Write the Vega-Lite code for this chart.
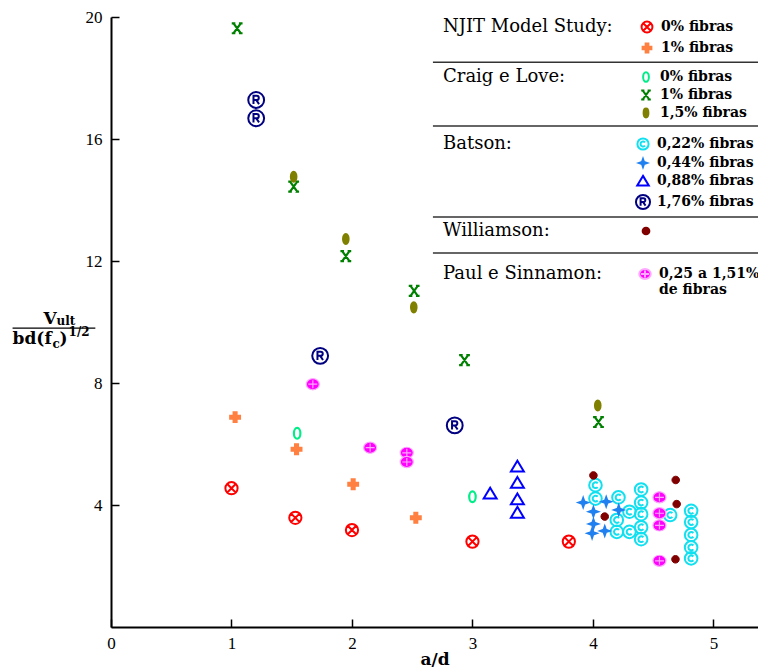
{
  "$schema": "https://vega.github.io/schema/vega-lite/v6.json",
  "width": 647,
  "height": 610,
  "autosize": {"type": "none"},
  "padding": {"left": 111, "top": 17, "right": 0, "bottom": 42},
  "background": "white",
  "config": {
    "view": {"stroke": null},
    "axis": {
      "grid": false,
      "domainColor": "black",
      "domainWidth": 2,
      "tickColor": "black",
      "tickWidth": 1.5,
      "tickSize": -8,
      "labelFont": "Liberation Serif",
      "labelFontSize": 17,
      "labelColor": "black",
      "labelFlush": false,
      "titleFont": "DejaVu Serif",
      "titleFontWeight": "bold",
      "titleFontSize": 17,
      "titleColor": "black"
    },
    "axisX": {"labelPadding": 16, "titlePadding": 0, "labelAngle": 0},
    "axisY": {"labelPadding": 17},
    "legend": {
      "orient": "none",
      "titleOrient": "left",
      "titleAnchor": "start",
      "titleBaseline": "top",
      "titleFont": "DejaVu Serif",
      "titleFontSize": 18,
      "titleFontWeight": "normal",
      "titleColor": "black",
      "titleLimit": 400,
      "labelFont": "DejaVu Serif",
      "labelFontSize": 14,
      "labelFontWeight": "bold",
      "labelColor": "black",
      "labelLimit": 300,
      "labelOffset": 5,
      "symbolSize": 256,
      "symbolStrokeWidth": 2,
      "symbolFillColor": "transparent",
      "symbolStrokeColor": "black",
      "rowPadding": 3,
      "padding": 0
    }
  },
  "data": {
    "values": [
      {"grupo": "NJIT", "serie": "0% fibras", "ad": 1.00, "v": 4.55},
      {"grupo": "NJIT", "serie": "0% fibras", "ad": 1.53, "v": 3.58},
      {"grupo": "NJIT", "serie": "0% fibras", "ad": 2.00, "v": 3.18},
      {"grupo": "NJIT", "serie": "0% fibras", "ad": 3.00, "v": 2.80},
      {"grupo": "NJIT", "serie": "0% fibras", "ad": 3.80, "v": 2.80},
      {"grupo": "NJIT", "serie": "1% fibras", "ad": 1.03, "v": 6.88},
      {"grupo": "NJIT", "serie": "1% fibras", "ad": 1.54, "v": 5.83},
      {"grupo": "NJIT", "serie": "1% fibras", "ad": 2.01, "v": 4.68},
      {"grupo": "NJIT", "serie": "1% fibras", "ad": 2.53, "v": 3.58},

      {"grupo": "Craig", "serie": "0% fibras", "ad": 1.545, "v": 6.35},
      {"grupo": "Craig", "serie": "0% fibras", "ad": 3.00, "v": 4.27},
      {"grupo": "Craig", "serie": "1% fibras", "ad": 1.047, "v": 19.63},
      {"grupo": "Craig", "serie": "1% fibras", "ad": 1.516, "v": 14.44},
      {"grupo": "Craig", "serie": "1% fibras", "ad": 1.949, "v": 12.16},
      {"grupo": "Craig", "serie": "1% fibras", "ad": 2.516, "v": 11.02},
      {"grupo": "Craig", "serie": "1% fibras", "ad": 2.934, "v": 8.75},
      {"grupo": "Craig", "serie": "1% fibras", "ad": 4.046, "v": 6.72},
      {"grupo": "Craig", "serie": "1,5% fibras", "ad": 1.516, "v": 14.76},
      {"grupo": "Craig", "serie": "1,5% fibras", "ad": 1.949, "v": 12.72},
      {"grupo": "Craig", "serie": "1,5% fibras", "ad": 2.513, "v": 10.48},
      {"grupo": "Craig", "serie": "1,5% fibras", "ad": 4.04, "v": 7.26},

      {"grupo": "Batson", "serie": "0,22% fibras", "ad": 4.021, "v": 4.65},
      {"grupo": "Batson", "serie": "0,22% fibras", "ad": 4.021, "v": 4.21},
      {"grupo": "Batson", "serie": "0,22% fibras", "ad": 4.212, "v": 4.25},
      {"grupo": "Batson", "serie": "0,22% fibras", "ad": 4.400, "v": 4.51},
      {"grupo": "Batson", "serie": "0,22% fibras", "ad": 4.303, "v": 3.78},
      {"grupo": "Batson", "serie": "0,22% fibras", "ad": 4.198, "v": 3.51},
      {"grupo": "Batson", "serie": "0,22% fibras", "ad": 4.400, "v": 4.08},
      {"grupo": "Batson", "serie": "0,22% fibras", "ad": 4.400, "v": 3.70},
      {"grupo": "Batson", "serie": "0,22% fibras", "ad": 4.198, "v": 3.12},
      {"grupo": "Batson", "serie": "0,22% fibras", "ad": 4.303, "v": 3.12},
      {"grupo": "Batson", "serie": "0,22% fibras", "ad": 4.400, "v": 3.27},
      {"grupo": "Batson", "serie": "0,22% fibras", "ad": 4.400, "v": 2.88},
      {"grupo": "Batson", "serie": "0,22% fibras", "ad": 4.641, "v": 3.67},
      {"grupo": "Batson", "serie": "0,22% fibras", "ad": 4.815, "v": 3.81},
      {"grupo": "Batson", "serie": "0,22% fibras", "ad": 4.815, "v": 3.44},
      {"grupo": "Batson", "serie": "0,22% fibras", "ad": 4.815, "v": 3.02},
      {"grupo": "Batson", "serie": "0,22% fibras", "ad": 4.815, "v": 2.61},
      {"grupo": "Batson", "serie": "0,22% fibras", "ad": 4.815, "v": 2.25},
      {"grupo": "Batson", "serie": "0,44% fibras", "ad": 3.919, "v": 4.08},
      {"grupo": "Batson", "serie": "0,44% fibras", "ad": 4.110, "v": 4.11},
      {"grupo": "Batson", "serie": "0,44% fibras", "ad": 4.004, "v": 3.78},
      {"grupo": "Batson", "serie": "0,44% fibras", "ad": 4.214, "v": 3.84},
      {"grupo": "Batson", "serie": "0,44% fibras", "ad": 4.004, "v": 3.38},
      {"grupo": "Batson", "serie": "0,44% fibras", "ad": 3.993, "v": 3.07},
      {"grupo": "Batson", "serie": "0,44% fibras", "ad": 4.098, "v": 3.15},
      {"grupo": "Batson", "serie": "0,88% fibras", "ad": 3.147, "v": 4.38},
      {"grupo": "Batson", "serie": "0,88% fibras", "ad": 3.373, "v": 5.26},
      {"grupo": "Batson", "serie": "0,88% fibras", "ad": 3.373, "v": 4.73},
      {"grupo": "Batson", "serie": "0,88% fibras", "ad": 3.373, "v": 4.19},
      {"grupo": "Batson", "serie": "0,88% fibras", "ad": 3.373, "v": 3.75},
      {"grupo": "Batson", "serie": "1,76% fibras", "ad": 1.205, "v": 17.28},
      {"grupo": "Batson", "serie": "1,76% fibras", "ad": 1.205, "v": 16.68},
      {"grupo": "Batson", "serie": "1,76% fibras", "ad": 1.736, "v": 8.89},
      {"grupo": "Batson", "serie": "1,76% fibras", "ad": 2.853, "v": 6.61},

      {"grupo": "Williamson", "serie": "Williamson", "ad": 4.004, "v": 4.97},
      {"grupo": "Williamson", "serie": "Williamson", "ad": 4.098, "v": 3.62},
      {"grupo": "Williamson", "serie": "Williamson", "ad": 4.687, "v": 4.82},
      {"grupo": "Williamson", "serie": "Williamson", "ad": 4.695, "v": 4.03},
      {"grupo": "Williamson", "serie": "Williamson", "ad": 4.685, "v": 2.22},

      {"grupo": "Paul", "serie": "0,25 a 1,51% de fibras", "ad": 1.675, "v": 7.96},
      {"grupo": "Paul", "serie": "0,25 a 1,51% de fibras", "ad": 2.151, "v": 5.88},
      {"grupo": "Paul", "serie": "0,25 a 1,51% de fibras", "ad": 2.455, "v": 5.71},
      {"grupo": "Paul", "serie": "0,25 a 1,51% de fibras", "ad": 2.455, "v": 5.41},
      {"grupo": "Paul", "serie": "0,25 a 1,51% de fibras", "ad": 4.552, "v": 4.25},
      {"grupo": "Paul", "serie": "0,25 a 1,51% de fibras", "ad": 4.552, "v": 3.73},
      {"grupo": "Paul", "serie": "0,25 a 1,51% de fibras", "ad": 4.552, "v": 3.33},
      {"grupo": "Paul", "serie": "0,25 a 1,51% de fibras", "ad": 4.552, "v": 2.17}
    ]
  },
  "layer": [
    {
      "transform": [{"filter": "datum.grupo === 'NJIT'"}],
      "mark": {"type": "point", "size": 324, "strokeWidth": 2, "opacity": 1, "filled": true},
      "encoding": {
        "x": {"field": "ad", "type": "quantitative", "title": "a/d", "scale": {"domain": [0, 5.37], "nice": false, "zero": false}, "axis": {"values": [0, 1, 2, 3, 4, 5], "format": "d"}},
        "y": {"field": "v", "type": "quantitative", "title": null, "scale": {"domain": [0, 20], "nice": false, "zero": false}, "axis": {"values": [4, 8, 12, 16, 20], "format": "d"}},
        "shape": {"field": "serie", "type": "nominal",
          "scale": {"domain": ["0% fibras", "1% fibras"], "range": [
            "M0.68,0A0.68,0.68 0 1,1 -0.68,0A0.68,0.68 0 1,1 0.68,0ZM-0.44,-0.44L0.44,0.44M0.44,-0.44L-0.44,0.44",
            "M-0.17,-0.55L0.17,-0.55L0.17,-0.17L0.55,-0.17L0.55,0.17L0.17,0.17L0.17,0.55L-0.17,0.55L-0.17,0.17L-0.55,0.17L-0.55,-0.17L-0.17,-0.17Z"]},
          "legend": {"title": "NJIT Model Study:", "legendX": 332, "legendY": 1, "titlePadding": 25, "rowPadding": 2}},
        "fill": {"field": "serie", "type": "nominal",
          "scale": {"domain": ["0% fibras", "1% fibras"], "range": ["transparent", "#FF8040"]},
          "legend": {"title": "NJIT Model Study:", "legendX": 332, "legendY": 1, "titlePadding": 25, "rowPadding": 2}},
        "stroke": {"field": "serie", "type": "nominal",
          "scale": {"domain": ["0% fibras", "1% fibras"], "range": ["#FF0000", "#FF8040"]},
          "legend": {"title": "NJIT Model Study:", "legendX": 332, "legendY": 1, "titlePadding": 25, "rowPadding": 2}}
      }
    },
    {
      "transform": [{"filter": "datum.grupo === 'Craig'"}],
      "mark": {"type": "point", "size": 324, "strokeWidth": 2.2, "opacity": 1, "filled": true},
      "encoding": {
        "x": {"field": "ad", "type": "quantitative", "title": "a/d"},
        "y": {"field": "v", "type": "quantitative", "title": null},
        "shape": {"field": "serie", "type": "nominal",
          "scale": {"domain": ["0% fibras", "1% fibras", "1,5% fibras"], "range": [
            "M0,-0.6A0.36,0.6 0 1,1 0,0.6A0.36,0.6 0 1,1 0,-0.6Z",
            "M-0.4,-0.55L0.4,0.55M0.4,-0.55L-0.4,0.55M-0.6,-0.55L-0.2,-0.55M0.2,-0.55L0.6,-0.55M-0.6,0.55L-0.2,0.55M0.2,0.55L0.6,0.55",
            "M0,-0.55A0.3,0.55 0 1,1 0,0.55A0.3,0.55 0 1,1 0,-0.55Z"]},
          "legend": {"title": "Craig e Love:", "legendX": 332, "legendY": 51, "titlePadding": 71, "rowPadding": -2}},
        "fill": {"field": "serie", "type": "nominal",
          "scale": {"domain": ["0% fibras", "1% fibras", "1,5% fibras"], "range": ["transparent", "transparent", "#808000"]},
          "legend": {"title": "Craig e Love:", "legendX": 332, "legendY": 51, "titlePadding": 71, "rowPadding": -2}},
        "stroke": {"field": "serie", "type": "nominal",
          "scale": {"domain": ["0% fibras", "1% fibras", "1,5% fibras"], "range": ["#00EE88", "#008000", "#808000"]},
          "legend": {"title": "Craig e Love:", "legendX": 332, "legendY": 51, "titlePadding": 71, "rowPadding": -2}}
      }
    },
    {
      "transform": [{"filter": "datum.grupo === 'Batson'"}],
      "mark": {"type": "point", "size": 324, "strokeWidth": 2, "opacity": 1, "filled": true},
      "encoding": {
        "x": {"field": "ad", "type": "quantitative", "title": "a/d"},
        "y": {"field": "v", "type": "quantitative", "title": null},
        "shape": {"field": "serie", "type": "nominal",
          "scale": {"domain": ["0,22% fibras", "0,44% fibras", "0,88% fibras", "1,76% fibras"], "range": [
            "M0.7,0A0.7,0.7 0 1,1 -0.7,0A0.7,0.7 0 1,1 0.7,0ZM0.25,-0.21A0.32,0.32 0 1,0 0.25,0.21",
            "M0,-0.5L0.13,-0.13L0.5,0L0.13,0.13L0,0.5L-0.13,0.13L-0.5,0L-0.13,-0.13Z",
            "M0,-0.64L0.72,0.56L-0.72,0.56Z",
            "M0.88,0A0.88,0.88 0 1,1 -0.88,0A0.88,0.88 0 1,1 0.88,0ZM-0.3,0.46L-0.3,-0.46L0.06,-0.46A0.23,0.23 0 0,1 0.06,0L-0.3,0M0,0L0.32,0.46"]},
          "legend": {"title": "Batson:", "legendX": 332, "legendY": 118, "titlePadding": 122, "rowPadding": 0}},
        "fill": {"field": "serie", "type": "nominal",
          "scale": {"domain": ["0,22% fibras", "0,44% fibras", "0,88% fibras", "1,76% fibras"], "range": ["transparent", "#2080F0", "transparent", "transparent"]},
          "legend": {"title": "Batson:", "legendX": 332, "legendY": 118, "titlePadding": 122, "rowPadding": 0}},
        "stroke": {"field": "serie", "type": "nominal",
          "scale": {"domain": ["0,22% fibras", "0,44% fibras", "0,88% fibras", "1,76% fibras"], "range": ["#10E0F0", "#2080F0", "#0000FF", "#000080"]},
          "legend": {"title": "Batson:", "legendX": 332, "legendY": 118, "titlePadding": 122, "rowPadding": 0}}
      }
    },
    {
      "transform": [{"filter": "datum.grupo === 'Williamson'"}],
      "mark": {"type": "point", "size": 324, "strokeWidth": 1, "opacity": 1, "filled": true},
      "encoding": {
        "x": {"field": "ad", "type": "quantitative", "title": "a/d"},
        "y": {"field": "v", "type": "quantitative", "title": null},
        "shape": {"field": "serie", "type": "nominal",
          "scale": {"domain": ["Williamson"], "range": ["M0.42,0A0.42,0.42 0 1,1 -0.42,0A0.42,0.42 0 1,1 0.42,0Z"]},
          "legend": {"title": "Williamson:", "legendX": 332, "legendY": 205, "titlePadding": 87, "labelExpr": "''"}},
        "fill": {"field": "serie", "type": "nominal",
          "scale": {"domain": ["Williamson"], "range": ["#800000"]},
          "legend": {"title": "Williamson:", "legendX": 332, "legendY": 205, "titlePadding": 87, "labelExpr": "''"}},
        "stroke": {"field": "serie", "type": "nominal",
          "scale": {"domain": ["Williamson"], "range": ["#800000"]},
          "legend": {"title": "Williamson:", "legendX": 332, "legendY": 205, "titlePadding": 87, "labelExpr": "''"}}
      }
    },
    {
      "transform": [{"filter": "datum.grupo === 'Paul'"}],
      "mark": {"type": "point", "size": 324, "strokeWidth": 1.2, "opacity": 1, "filled": true},
      "encoding": {
        "x": {"field": "ad", "type": "quantitative", "title": "a/d"},
        "y": {"field": "v", "type": "quantitative", "title": null},
        "shape": {"field": "serie", "type": "nominal",
          "scale": {"domain": ["0,25 a 1,51% de fibras"], "range": ["M0.72,0A0.72,0.62 0 1,1 -0.72,0A0.72,0.62 0 1,1 0.72,0ZM-0.5,0L0.5,0M0,-0.45L0,0.45"]},
          "legend": {"title": "Paul e Sinnamon:", "legendX": 332, "legendY": 248, "titlePadding": 33, "labelExpr": "['0,25 a 1,51%', 'de fibras']"}},
        "fill": {"field": "serie", "type": "nominal",
          "scale": {"domain": ["0,25 a 1,51% de fibras"], "range": ["#FF00FF"]},
          "legend": {"title": "Paul e Sinnamon:", "legendX": 332, "legendY": 248, "titlePadding": 33, "labelExpr": "['0,25 a 1,51%', 'de fibras']"}},
        "stroke": {"field": "serie", "type": "nominal",
          "scale": {"domain": ["0,25 a 1,51% de fibras"], "range": ["#FFA8FF"]},
          "legend": {"title": "Paul e Sinnamon:", "legendX": 332, "legendY": 248, "titlePadding": 33, "labelExpr": "['0,25 a 1,51%', 'de fibras']"}}
      }
    },
    {
      "data": {"values": [{}]},
      "mark": {"type": "rule", "color": "#333333", "strokeWidth": 1.5},
      "encoding": {"x": {"datum": 2.672, "type": "quantitative"}, "x2": {"datum": 5.37}, "y": {"datum": 18.52, "type": "quantitative"}}
    },
    {
      "data": {"values": [{}]},
      "mark": {"type": "rule", "color": "#333333", "strokeWidth": 1.5},
      "encoding": {"x": {"datum": 2.672, "type": "quantitative"}, "x2": {"datum": 5.37}, "y": {"datum": 16.43, "type": "quantitative"}}
    },
    {
      "data": {"values": [{}]},
      "mark": {"type": "rule", "color": "#333333", "strokeWidth": 1.5},
      "encoding": {"x": {"datum": 2.672, "type": "quantitative"}, "x2": {"datum": 5.37}, "y": {"datum": 13.44, "type": "quantitative"}}
    },
    {
      "data": {"values": [{}]},
      "mark": {"type": "rule", "color": "#333333", "strokeWidth": 1.5},
      "encoding": {"x": {"datum": 2.672, "type": "quantitative"}, "x2": {"datum": 5.37}, "y": {"datum": 12.26, "type": "quantitative"}}
    },
    {
      "data": {"values": [{}]},
      "mark": {"type": "rule", "color": "black", "strokeWidth": 1.3},
      "encoding": {"x": {"datum": -0.817, "type": "quantitative"}, "x2": {"datum": -0.13}, "y": {"datum": 9.8, "type": "quantitative"}}
    },
    {
      "data": {"values": [{}]},
      "mark": {"type": "text", "text": "V", "font": "DejaVu Serif", "fontWeight": "bold", "fontSize": 17, "align": "left", "baseline": "alphabetic", "dx": 31, "dy": -4, "color": "black"},
      "encoding": {"x": {"datum": -0.817, "type": "quantitative"}, "y": {"datum": 9.8, "type": "quantitative"}}
    },
    {
      "data": {"values": [{}]},
      "mark": {"type": "text", "text": "ult", "font": "DejaVu Serif", "fontWeight": "bold", "fontSize": 12, "align": "left", "baseline": "alphabetic", "dx": 44, "dy": -3, "color": "black"},
      "encoding": {"x": {"datum": -0.817, "type": "quantitative"}, "y": {"datum": 9.8, "type": "quantitative"}}
    },
    {
      "data": {"values": [{}]},
      "mark": {"type": "text", "text": "bd(f", "font": "DejaVu Serif", "fontWeight": "bold", "fontSize": 17, "align": "left", "baseline": "alphabetic", "dx": 0, "dy": 16, "color": "black"},
      "encoding": {"x": {"datum": -0.817, "type": "quantitative"}, "y": {"datum": 9.8, "type": "quantitative"}}
    },
    {
      "data": {"values": [{}]},
      "mark": {"type": "text", "text": "c", "font": "DejaVu Serif", "fontWeight": "bold", "fontSize": 12, "align": "left", "baseline": "alphabetic", "dx": 40, "dy": 20, "color": "black"},
      "encoding": {"x": {"datum": -0.817, "type": "quantitative"}, "y": {"datum": 9.8, "type": "quantitative"}}
    },
    {
      "data": {"values": [{}]},
      "mark": {"type": "text", "text": ")", "font": "DejaVu Serif", "fontWeight": "bold", "fontSize": 17, "align": "left", "baseline": "alphabetic", "dx": 47, "dy": 16, "color": "black"},
      "encoding": {"x": {"datum": -0.817, "type": "quantitative"}, "y": {"datum": 9.8, "type": "quantitative"}}
    },
    {
      "data": {"values": [{}]},
      "mark": {"type": "text", "text": "1/2", "font": "DejaVu Serif", "fontWeight": "bold", "fontSize": 12, "align": "left", "baseline": "alphabetic", "dx": 56, "dy": 8, "color": "black"},
      "encoding": {"x": {"datum": -0.817, "type": "quantitative"}, "y": {"datum": 9.8, "type": "quantitative"}}
    }
  ],
  "resolve": {"scale": {"fill": "independent", "stroke": "independent", "shape": "independent"}}
}
